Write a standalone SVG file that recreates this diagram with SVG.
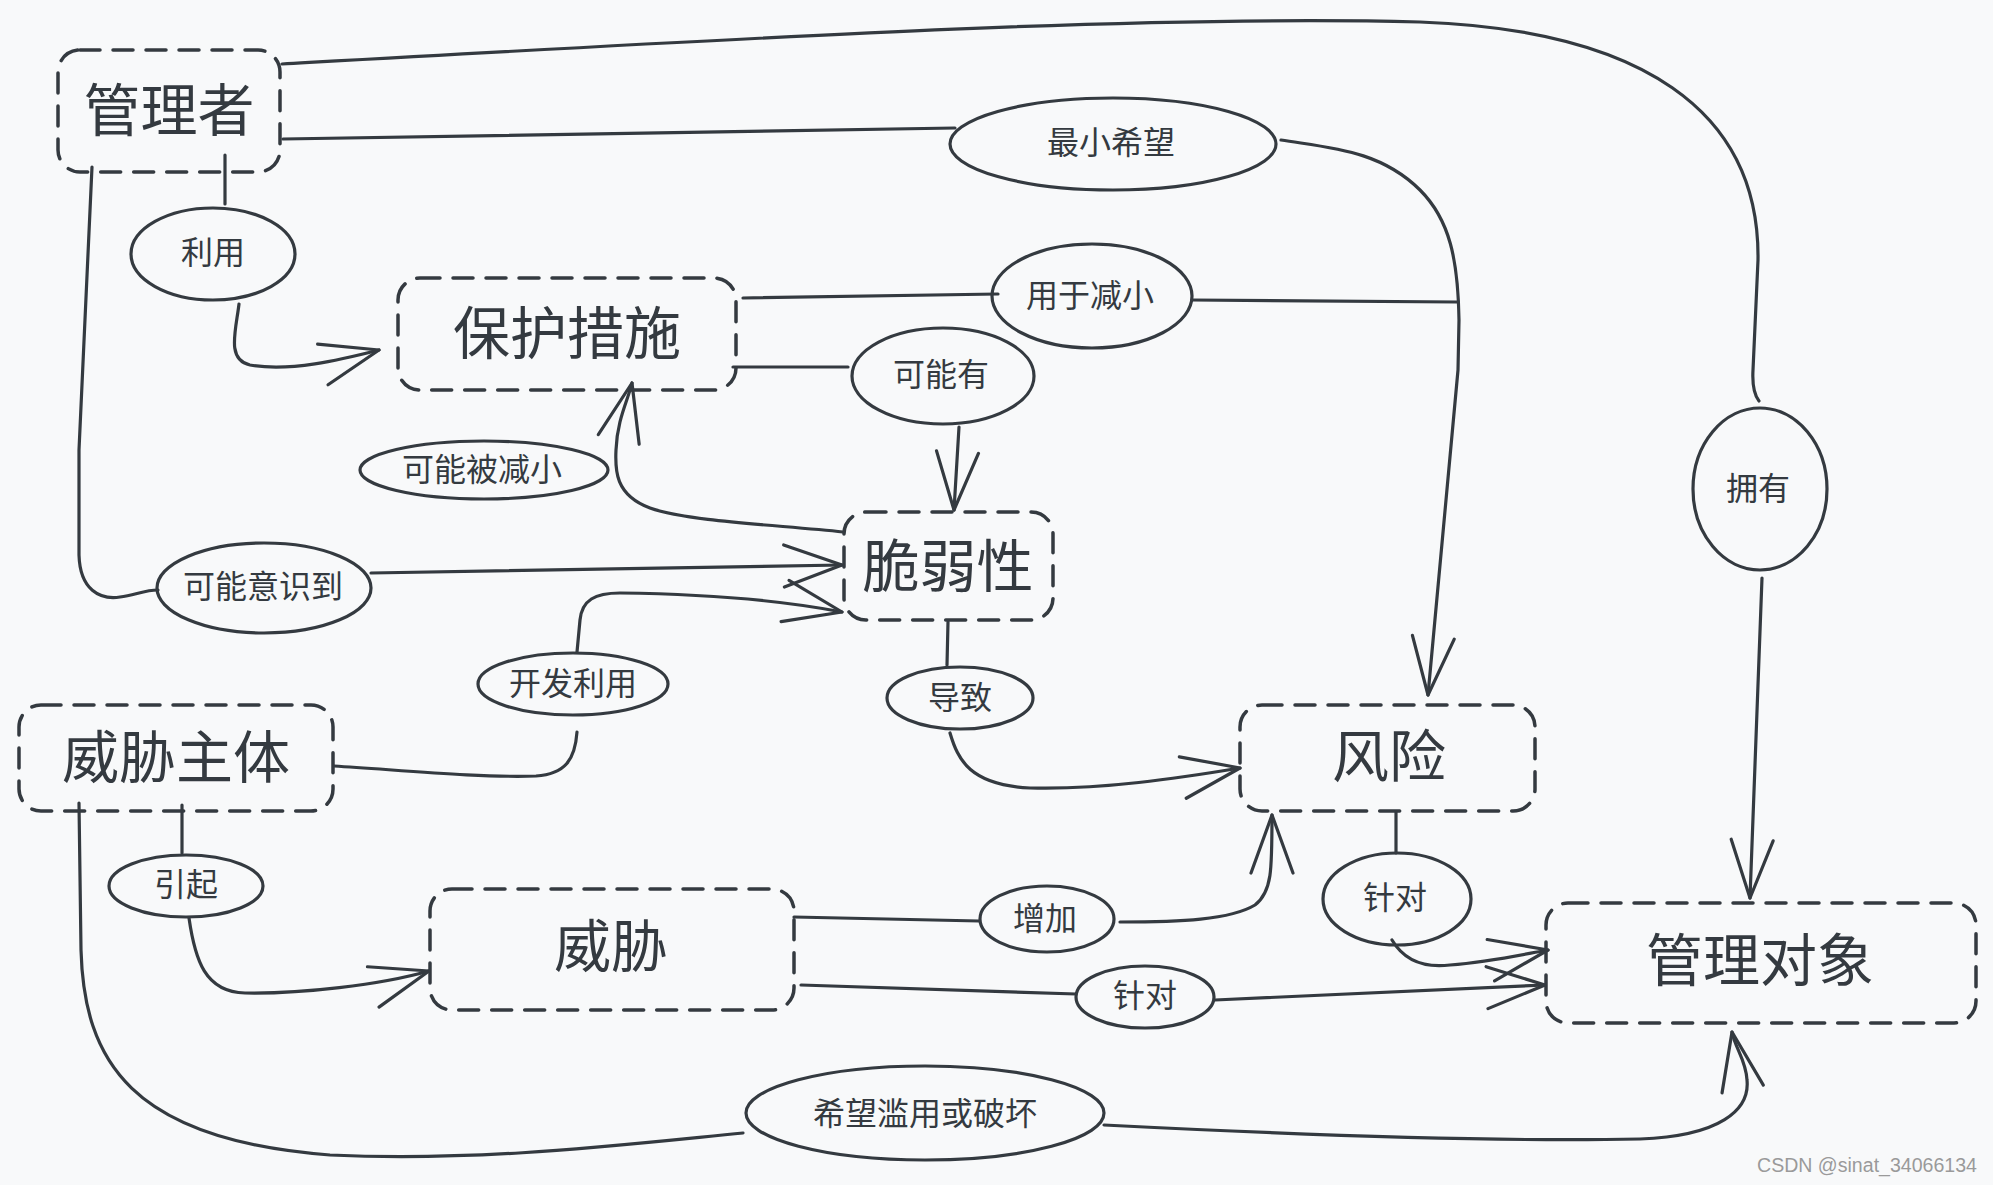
<svg xmlns="http://www.w3.org/2000/svg" width="1993" height="1185" viewBox="0 0 1993 1185">
<style>
.bg{fill:#f8f9fa}
.node rect{fill:none;stroke:#343a40;stroke-width:3.5;stroke-dasharray:20 13;stroke-linecap:round}
.node text{font-family:"Noto Sans CJK SC","Noto Sans",sans-serif;font-size:57px;fill:#343a40;text-anchor:middle;dominant-baseline:central}
.lab ellipse{fill:none;stroke:#343a40;stroke-width:3.2}
.lab text{font-family:"Noto Sans CJK SC","Noto Sans",sans-serif;font-size:32px;fill:#343a40;text-anchor:middle;dominant-baseline:central}
.c path{fill:none;stroke:#343a40;stroke-width:3.2;stroke-linecap:round;stroke-linejoin:round}
.c .a{marker-end:url(#arr)}
.wm{font-family:"Liberation Sans",Arial,sans-serif;font-size:20px;fill:#9a9a9a}
</style>
<defs>
<marker id="arr" markerUnits="userSpaceOnUse" markerWidth="80" markerHeight="60" viewBox="-70 -30 80 60" refX="0" refY="0" orient="auto" overflow="visible">
<path d="M -58 -21 L 0 0 L -58 21" fill="none" stroke="#343a40" stroke-width="3.2" stroke-linecap="round" stroke-linejoin="round"/>
</marker>
</defs>
<rect class="bg" x="0" y="0" width="1993" height="1185"/>

<g id="connectors" class="c">
<path d="M 282 64 C 800 35, 1150 15, 1420 22 C 1640 30, 1760 110, 1758 260 L 1753 370 C 1752 388, 1755 396, 1759 401"/>
<path class="a" d="M 1762 578 L 1750 898"/>
<path d="M 283 139 L 955 128"/>
<path class="a" d="M 1281 140 C 1330 148, 1380 150, 1420 190 C 1450 220, 1458 260, 1459 320 L 1458 370 L 1428 695"/>
<path d="M 743 298 L 998 294"/>
<path d="M 1192 300 L 1457 302"/>
<path d="M 225 155 L 225 204"/>
<path class="a" d="M 239 304 C 236 330, 226 360, 250 365 C 290 372, 340 360, 379 350"/>
<path d="M 92 167 L 79 450 L 79 555 C 80 590, 100 600, 120 597 C 135 595, 145 590, 158 590"/>
<path class="a" d="M 371 573 L 842 565"/>
<path d="M 733 367 L 848 367"/>
<path class="a" d="M 959 427 L 954 510"/>
<path class="a" d="M 843 532 C 780 525, 690 522, 650 508 C 615 495, 615 470, 616 450 C 617 420, 628 400, 632 383"/>
<path d="M 334 766 C 400 770, 480 778, 536 776 C 565 774, 575 760, 577 732"/>
<path class="a" d="M 577 652 L 580 620 C 582 600, 595 593, 620 593 C 700 594, 780 600, 842 612"/>
<path d="M 182 805 L 182 853"/>
<path class="a" d="M 189 918 C 195 960, 205 992, 245 993 C 300 994, 380 985, 429 971"/>
<path d="M 79 803 L 81 950 C 84 1060, 130 1140, 330 1155 C 480 1162, 620 1145, 743 1133"/>
<path class="a" d="M 1104 1125 C 1300 1135, 1500 1142, 1640 1139 C 1720 1136, 1750 1110, 1747 1080 C 1746 1060, 1735 1048, 1732 1032"/>
<path d="M 948 622 L 947 665"/>
<path class="a" d="M 950 733 C 958 760, 970 785, 1030 788 C 1100 790, 1180 778, 1240 768"/>
<path d="M 794 917 L 979 921"/>
<path class="a" d="M 1120 922 C 1180 922, 1230 920, 1255 905 C 1272 892, 1272 870, 1272 815"/>
<path d="M 1396 812 L 1396 853"/>
<path class="a" d="M 1392 940 C 1405 962, 1425 968, 1450 965 C 1490 962, 1520 955, 1548 950"/>
<path d="M 801 985 L 1076 994"/>
<path class="a" d="M 1215 1000 L 1545 985"/>
</g>

<g id="n-guanlizhe" class="node"><rect x="58" y="50" width="222" height="122" rx="22"/><text x="169" y="106">管理者</text></g>
<g id="n-baohucuoshi" class="node"><rect x="398" y="278" width="338" height="112" rx="22"/><text x="567" y="329">保护措施</text></g>
<g id="n-cuiruoxing" class="node"><rect x="844" y="512" width="209" height="108" rx="22"/><text x="948" y="562">脆弱性</text></g>
<g id="n-weixiezhuti" class="node"><rect x="19" y="705" width="314" height="106" rx="22"/><text x="176" y="753">威胁主体</text></g>
<g id="n-weixie" class="node"><rect x="430" y="889" width="364" height="121" rx="22"/><text x="611" y="942">威胁</text></g>
<g id="n-fengxian" class="node"><rect x="1240" y="705" width="295" height="106" rx="22"/><text x="1389" y="752">风险</text></g>
<g id="n-guanliduixiang" class="node"><rect x="1546" y="903" width="430" height="120" rx="22"/><text x="1760" y="956">管理对象</text></g>

<g id="l-liyong" class="lab"><ellipse cx="213" cy="254" rx="82" ry="46"/><text x="213" y="250">利用</text></g>
<g id="l-zuixiaoxiwang" class="lab"><ellipse cx="1113" cy="144" rx="163" ry="46"/><text x="1111" y="140">最小希望</text></g>
<g id="l-yongyujianxiao" class="lab"><ellipse cx="1092" cy="296" rx="100" ry="52"/><text x="1090" y="293">用于减小</text></g>
<g id="l-kenengyou" class="lab"><ellipse cx="943" cy="376" rx="91" ry="48"/><text x="941" y="372">可能有</text></g>
<g id="l-yongyou" class="lab"><ellipse cx="1760" cy="489" rx="67" ry="81"/><text x="1758" y="486">拥有</text></g>
<g id="l-kenengbeijianxiao" class="lab"><ellipse cx="484" cy="470" rx="124" ry="29"/><text x="482" y="467">可能被减小</text></g>
<g id="l-kenengyishidao" class="lab"><ellipse cx="264" cy="588" rx="107" ry="45"/><text x="263" y="584">可能意识到</text></g>
<g id="l-kaifaliyong" class="lab"><ellipse cx="573" cy="684" rx="95" ry="31"/><text x="573" y="681">开发利用</text></g>
<g id="l-daozhi" class="lab"><ellipse cx="960" cy="698" rx="73" ry="31"/><text x="960" y="695">导致</text></g>
<g id="l-yinqi" class="lab"><ellipse cx="186" cy="886" rx="77" ry="31"/><text x="186" y="882">引起</text></g>
<g id="l-zengjia" class="lab"><ellipse cx="1047" cy="919" rx="67" ry="33"/><text x="1045" y="916">增加</text></g>
<g id="l-zhendui1" class="lab"><ellipse cx="1397" cy="899" rx="74" ry="46"/><text x="1395" y="895">针对</text></g>
<g id="l-zhendui2" class="lab"><ellipse cx="1145" cy="997" rx="69" ry="31"/><text x="1145" y="993">针对</text></g>
<g id="l-xiwang" class="lab"><ellipse cx="925" cy="1113" rx="179" ry="47"/><text x="925" y="1111">希望滥用或破坏</text></g>

<text class="wm" x="1757" y="1172" textLength="220" lengthAdjust="spacingAndGlyphs">CSDN @sinat_34066134</text>
</svg>
